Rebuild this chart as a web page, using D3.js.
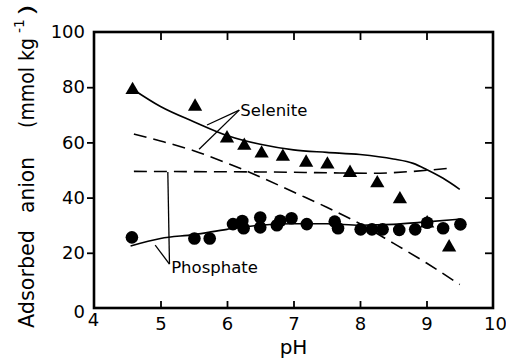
<!DOCTYPE html>
<html>
<head>
<meta charset="utf-8">
<script src="https://cdn.jsdelivr.net/npm/d3@7"></script>
<style>
  html, body { margin: 0; padding: 0; background: #fff; }
  svg { display: block; font-family: "DejaVu Sans", sans-serif; }
</style>
</head>
<body>
<svg id="chart" width="506" height="362"></svg>
<script>
// ---- data ----
const xTicks = [4, 5, 6, 7, 8, 9, 10];
const yTicks = [0, 20, 40, 60, 80, 100];

const seleniteX = [4.58, 5.52, 6.0, 6.26, 6.52, 6.84, 7.19, 7.51, 7.85, 8.26, 8.6, 9.01, 9.34];
const seleniteY = [79, 73, 61.5, 58.8, 56, 54.8, 52.7, 52, 49, 45.2, 39.4, 30.7, 22];

const phosphateX = [4.57, 5.51, 5.74, 6.09, 6.23, 6.25, 6.5, 6.5, 6.75, 6.8, 6.97, 7.2, 7.62, 7.67, 8.01, 8.18, 8.34, 8.59, 8.83, 9.01, 9.25, 9.51];
const phosphateY = [25.6, 25.2, 25.2, 30.4, 31.5, 28.9, 32.8, 29.2, 30, 31.6, 32.5, 30.4, 31.3, 28.9, 28.5, 28.5, 28.5, 28.3, 28.5, 30.9, 28.9, 30.3];

// model curves
const seleniteFitX = [4.6, 5.0, 5.5, 6.0, 6.5, 7.0, 7.5, 8.0, 8.5, 8.8, 9.0, 9.25, 9.5];
const seleniteFitY = [79, 73, 67.5, 62.5, 59.3, 57.3, 56.4, 55.6, 54, 52.4, 50.2, 47, 43];

const seleniteDashX = [4.6, 5.0, 5.5, 6.0, 6.5, 7.0, 7.5, 8.0, 8.5, 9.0, 9.5];
const seleniteDashY = [63, 60.5, 57, 52.5, 47.5, 42, 36.5, 30.5, 23.5, 16.3, 8.5];

const phosphateDashX = [4.6, 5.5, 6.5, 7.5, 8.2, 8.8, 9.4];
const phosphateDashY = [49.5, 49.4, 49.3, 49, 48.8, 49.5, 50.8];

const phosphateFitX = [4.55, 5.0, 5.5, 6.0, 6.5, 7.0, 7.5, 8.0, 8.5, 9.0, 9.5];
const phosphateFitY = [22.5, 25.2, 26.6, 28.5, 30, 30.5, 30.5, 30, 30.3, 31.2, 32.2];

// annotation anchors (data units)
const seleniteLabel = { text: "Selenite", x: 6.2, y: 69.7 };
const seleniteLeaders = [[6.185, 71.7, 5.70, 66.3], [6.185, 71.7, 5.58, 57.5]];
const phosphateLabel = { text: "Phosphate", x: 5.16, y: 12.6 };
const phosphateLeaders = [[5.11, 49.3, 5.135, 15.9], [4.92, 22.8, 5.135, 15.9]];

// ---- drawing ----
const svg = d3.select("#chart");
const x = d3.scaleLinear().domain([4, 10]).range([94, 493]);
const y = d3.scaleLinear().domain([0, 100]).range([308, 32]);

// frame
svg.append("rect")
  .attr("x", x(4)).attr("y", y(100))
  .attr("width", x(10) - x(4)).attr("height", y(0) - y(100))
  .attr("fill", "none").attr("stroke", "#000").attr("stroke-width", 2.6);

// left axis (ticks outward)
const gl = svg.append("g").attr("transform", `translate(${x(4)},0)`)
  .call(d3.axisLeft(y).tickValues(yTicks).tickSize(7).tickPadding(2).tickFormat(d3.format("d")));
// bottom axis (ticks inward)
const gb = svg.append("g").attr("transform", `translate(0,${y(0)})`)
  .call(d3.axisBottom(x).tickValues(xTicks).tickSize(-7).tickPadding(9).tickFormat(d3.format("d")));
// top axis (ticks inward, no labels)
const gt = svg.append("g").attr("transform", `translate(0,${y(100)})`)
  .call(d3.axisTop(x).tickValues(xTicks.slice(1, -1)).tickSize(-8).tickFormat(""));
// right axis (ticks inward, no labels)
const gr = svg.append("g").attr("transform", `translate(${x(10)},0)`)
  .call(d3.axisRight(y).tickValues(yTicks.slice(1, -1)).tickSize(-8).tickFormat(""));

[gl, gb, gt, gr].forEach(g => {
  g.select(".domain").remove();
  g.selectAll(".tick line").attr("stroke", "#000").attr("stroke-width", 1.8);
  g.selectAll(".tick text").attr("fill", "#000").attr("font-size", 18)
    .attr("font-family", "DejaVu Sans, sans-serif");
});
gl.selectAll(".tick").filter(d => d === 0 || d === 100).select("line").remove();
gl.selectAll(".tick text").filter(d => d === 0).attr("dy", "0.55em");
gb.selectAll(".tick text").filter(d => d === 4).attr("dy", "0.5em").attr("dx", "-1");
gb.selectAll(".tick text").filter(d => d === 10).attr("dx", "2");
gb.selectAll(".tick").filter(d => d === 4 || d === 10).select("line").remove();

// axis titles
svg.append("text").attr("x", x(7)).attr("y", 354).attr("text-anchor", "middle")
  .attr("font-size", 20).text("pH");

const yl = svg.append("g").attr("transform", "translate(34,0)");
const ylPieces = [
  { t: "Adsorbed", y0: 328, len: 98, dx: 0, fs: 21 },
  { t: "anion", y0: 213, len: 56, dx: 0, fs: 21 },
  { t: "(mmol kg", y0: 128, len: 90, dx: 0, fs: 21 },
  { t: "-1", y0: 33, len: 14, dx: -10, fs: 14 },
  { t: ")", y0: 16, len: 12, dx: 0, fs: 21 }
];
ylPieces.forEach(p => {
  yl.append("text")
    .attr("transform", `translate(${p.dx},${p.y0}) rotate(-90)`)
    .attr("font-size", p.fs)
    .attr("textLength", p.len).attr("lengthAdjust", "spacingAndGlyphs")
    .text(p.t);
});

// curves
const line = d3.line().x(d => x(d[0])).y(d => y(d[1])).curve(d3.curveMonotoneX);
const curves = [
  { xs: seleniteFitX, ys: seleniteFitY, dash: null },
  { xs: seleniteDashX, ys: seleniteDashY, dash: "13,7" },
  { xs: phosphateDashX, ys: phosphateDashY, dash: "13,7" },
  { xs: phosphateFitX, ys: phosphateFitY, dash: null }
];
curves.forEach(c => {
  svg.append("path")
    .datum(c.xs.map((v, i) => [v, c.ys[i]]))
    .attr("d", line)
    .attr("fill", "none").attr("stroke", "#000").attr("stroke-width", 1.6)
    .attr("stroke-dasharray", c.dash);
});

// points
svg.append("g").selectAll("circle")
  .data(phosphateX.map((v, i) => [v, phosphateY[i]]))
  .join("circle")
  .attr("cx", d => x(d[0])).attr("cy", d => y(d[1])).attr("r", 6.3).attr("fill", "#000");

svg.append("g").selectAll("path")
  .data(seleniteX.map((v, i) => [v, seleniteY[i]]))
  .join("path")
  .attr("transform", d => `translate(${x(d[0])},${y(d[1])})`)
  .attr("d", d3.symbol(d3.symbolTriangle, 88))
  .attr("fill", "#000");

// annotations
[...seleniteLeaders, ...phosphateLeaders].forEach(l => {
  svg.append("line")
    .attr("x1", x(l[0])).attr("y1", y(l[1]))
    .attr("x2", x(l[2])).attr("y2", y(l[3]))
    .attr("stroke", "#000").attr("stroke-width", 1.3);
});
[seleniteLabel, phosphateLabel].forEach(l => {
  svg.append("text").attr("x", x(l.x)).attr("y", y(l.y))
    .attr("font-size", 16.5).text(l.text);
});
</script>
</body>
</html>
